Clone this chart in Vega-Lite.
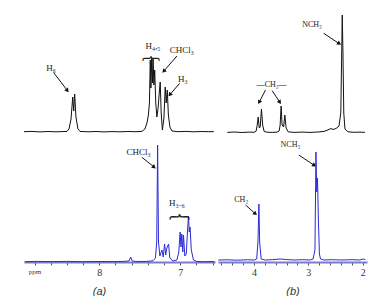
{
"$schema": "https://vega.github.io/schema/vega-lite/v6.json",
"padding": {"left": 22, "top": 13, "right": 0, "bottom": 0},
"background": "white",
"config": {"view": {"stroke": null}},
"bounds": "flush",
"columns": 2,
"spacing": {"row": 10, "column": 3},
"datasets": {
"tl": [
{"ppm":8.93,"I":1.3},{"ppm":8.831,"I":1.6},{"ppm":8.732,"I":1.1},{"ppm":8.633,"I":1.5},{"ppm":8.535,"I":1.2},{"ppm":8.46,"I":1.4},{"ppm":8.399,"I":1.6},{"ppm":8.374,"I":4},{"ppm":8.349,"I":14},{"ppm":8.328,"I":36},{"ppm":8.316,"I":22},{"ppm":8.304,"I":39},{"ppm":8.288,"I":16},{"ppm":8.263,"I":4},{"ppm":8.238,"I":1.6},{"ppm":8.14,"I":1.2},{"ppm":8.041,"I":1.5},{"ppm":7.942,"I":1.1},{"ppm":7.843,"I":1.4},{"ppm":7.744,"I":1.2},{"ppm":7.646,"I":1.5},{"ppm":7.547,"I":1.3},{"ppm":7.473,"I":1.6},{"ppm":7.436,"I":4},{"ppm":7.411,"I":10},{"ppm":7.393,"I":18},{"ppm":7.38,"I":30},{"ppm":7.37,"I":73},{"ppm":7.362,"I":45},{"ppm":7.352,"I":75},{"ppm":7.343,"I":50},{"ppm":7.335,"I":75},{"ppm":7.325,"I":48},{"ppm":7.315,"I":63},{"ppm":7.302,"I":30},{"ppm":7.288,"I":16},{"ppm":7.273,"I":25},{"ppm":7.259,"I":40},{"ppm":7.247,"I":51},{"ppm":7.235,"I":20},{"ppm":7.22,"I":3},{"ppm":7.201,"I":15},{"ppm":7.185,"I":46},{"ppm":7.173,"I":30},{"ppm":7.16,"I":43},{"ppm":7.146,"I":18},{"ppm":7.127,"I":6},{"ppm":7.102,"I":2},{"ppm":7.028,"I":1.3},{"ppm":6.93,"I":1.6},{"ppm":6.831,"I":1.2},{"ppm":6.732,"I":1.5},{"ppm":6.646,"I":1.3},{"ppm":6.584,"I":1.4}
],
"tr": [
{"ppm":4.49,"I":0.6},{"ppm":4.361,"I":1.0},{"ppm":4.215,"I":0.5},{"ppm":4.086,"I":0.9},{"ppm":3.995,"I":0.7},{"ppm":3.958,"I":2},{"ppm":3.939,"I":8},{"ppm":3.921,"I":16},{"ppm":3.902,"I":5},{"ppm":3.884,"I":6},{"ppm":3.861,"I":24},{"ppm":3.839,"I":8},{"ppm":3.811,"I":1.5},{"ppm":3.756,"I":0.8},{"ppm":3.664,"I":0.6},{"ppm":3.572,"I":0.9},{"ppm":3.536,"I":2},{"ppm":3.517,"I":8},{"ppm":3.499,"I":27},{"ppm":3.481,"I":8},{"ppm":3.453,"I":6},{"ppm":3.431,"I":18},{"ppm":3.407,"I":5},{"ppm":3.371,"I":1.2},{"ppm":3.261,"I":0.6},{"ppm":3.114,"I":0.9},{"ppm":2.967,"I":0.6},{"ppm":2.82,"I":1.0},{"ppm":2.71,"I":1.6},{"ppm":2.618,"I":3.5},{"ppm":2.582,"I":4.5},{"ppm":2.545,"I":3.5},{"ppm":2.49,"I":4.5},{"ppm":2.435,"I":7},{"ppm":2.402,"I":20},{"ppm":2.388,"I":70},{"ppm":2.375,"I":118},{"ppm":2.362,"I":80},{"ppm":2.347,"I":20},{"ppm":2.325,"I":4},{"ppm":2.27,"I":1.2},{"ppm":2.16,"I":0.7},{"ppm":2.05,"I":0.9},{"ppm":1.958,"I":0.6}
],
"bl": [
{"ppm":8.921,"I":0.3},{"ppm":8.769,"I":0.6},{"ppm":8.584,"I":0.4},{"ppm":8.399,"I":0.6},{"ppm":8.214,"I":0.3},{"ppm":8.028,"I":0.5},{"ppm":7.843,"I":0.4},{"ppm":7.695,"I":0.6},{"ppm":7.633,"I":1},{"ppm":7.612,"I":5},{"ppm":7.593,"I":1},{"ppm":7.535,"I":0.5},{"ppm":7.411,"I":0.6},{"ppm":7.337,"I":1.2},{"ppm":7.306,"I":4},{"ppm":7.29,"I":20},{"ppm":7.279,"I":117},{"ppm":7.268,"I":20},{"ppm":7.251,"I":6},{"ppm":7.226,"I":12},{"ppm":7.21,"I":5},{"ppm":7.193,"I":18},{"ppm":7.179,"I":7},{"ppm":7.165,"I":14},{"ppm":7.144,"I":18},{"ppm":7.128,"I":4},{"ppm":7.091,"I":1},{"ppm":7.041,"I":2},{"ppm":7.017,"I":10},{"ppm":7.001,"I":30},{"ppm":6.99,"I":15},{"ppm":6.98,"I":28},{"ppm":6.968,"I":10},{"ppm":6.959,"I":27},{"ppm":6.943,"I":6},{"ppm":6.925,"I":8},{"ppm":6.91,"I":30},{"ppm":6.898,"I":46},{"ppm":6.888,"I":30},{"ppm":6.878,"I":35},{"ppm":6.863,"I":12},{"ppm":6.836,"I":2},{"ppm":6.794,"I":0.5},{"ppm":6.696,"I":0.3},{"ppm":6.578,"I":0.5}
],
"br": [
{"ppm":4.655,"I":2},{"ppm":4.49,"I":2.2},{"ppm":4.306,"I":1.8},{"ppm":4.123,"I":2.2},{"ppm":3.995,"I":2},{"ppm":3.949,"I":3},{"ppm":3.925,"I":20},{"ppm":3.908,"I":58},{"ppm":3.894,"I":20},{"ppm":3.866,"I":3},{"ppm":3.793,"I":2},{"ppm":3.664,"I":2.3},{"ppm":3.517,"I":3},{"ppm":3.407,"I":2.5},{"ppm":3.261,"I":2},{"ppm":3.114,"I":2.3},{"ppm":2.967,"I":2},{"ppm":2.912,"I":3},{"ppm":2.877,"I":12},{"ppm":2.859,"I":110},{"ppm":2.844,"I":70},{"ppm":2.83,"I":84},{"ppm":2.813,"I":40},{"ppm":2.795,"I":8},{"ppm":2.775,"I":3},{"ppm":2.71,"I":2},{"ppm":2.563,"I":2.3},{"ppm":2.38,"I":2},{"ppm":2.196,"I":2.3},{"ppm":2.05,"I":2},{"ppm":1.995,"I":3},{"ppm":1.949,"I":2.5}
],
"tlLab": [{"ppm":8.596,"I":65,"t":"H₆"},{"ppm":7.337,"I":87,"t":"H₄,₅"},{"ppm":6.979,"I":83,"t":"CHCl₃"},{"ppm":6.967,"I":54,"t":"H₃"}],
"tlBr": [{"ppm":7.362,"I":79,"t":"︷"}],
"tlArr": [{"ppm":8.563,"I":60.3,"ppm2":8.399,"I2":43,"ang":142},{"ppm":7.041,"I":77,"ppm2":7.198,"I2":62.3,"ang":221},{"ppm":7.007,"I":49.7,"ppm2":7.123,"I2":38.7,"ang":220}],
"trLab": [{"ppm":3.673,"I":48.5,"t":"—CH₂—"},{"ppm":2.93,"I":108,"t":"NCH₃"}],
"trArr": [{"ppm":3.787,"I":43,"ppm2":3.897,"I2":31.3,"ang":207},{"ppm":3.664,"I":42.3,"ppm2":3.53,"I2":31.3,"ang":146},{"ppm":2.716,"I":99.7,"ppm2":2.44,"I2":89.7,"ang":124}],
"blLab": [{"ppm":7.514,"I":110.3,"t":"CHCl₃"},{"ppm":7.041,"I":59,"t":"H₃₋₆"}],
"blBr": [{"ppm":7.01,"I":51,"t":"︷"}],
"blArr": [{"ppm":7.473,"I":104.7,"ppm2":7.328,"I2":95.3,"ang":129}],
"brLab": [{"ppm":4.233,"I":62.5,"t":"CH₂"},{"ppm":3.328,"I":117,"t":"NCH₃"}],
"brArr": [{"ppm":4.154,"I":57,"ppm2":3.982,"I2":48.7,"ang":131},{"ppm":3.174,"I":107,"ppm2":2.899,"I2":97,"ang":124}]
},
"concat": [
 {"width":191,"height":120,
  "encoding":{"x":{"field":"ppm","type":"quantitative","scale":{"domain":[8.93,6.57],"nice":false,"zero":false},"axis":null},
              "y":{"field":"I","type":"quantitative","scale":{"domain":[0,120],"nice":false,"zero":false},"axis":null}},
  "layer":[
   {"data":{"name":"tl"},"mark":{"type":"line","color":"#111111","strokeWidth":1}},
   {"data":{"name":"tlArr"},"mark":{"type":"rule","color":"#111111","strokeWidth":1},"encoding":{"x2":{"field":"ppm2"},"y2":{"field":"I2"}}},
   {"data":{"name":"tlArr"},"mark":{"type":"point","shape":"triangle","filled":true,"size":22,"color":"#111111","opacity":1},"encoding":{"x":{"field":"ppm2","type":"quantitative"},"y":{"field":"I2","type":"quantitative"},"angle":{"field":"ang","type":"quantitative","scale":null}}},
   {"data":{"name":"tlLab"},"mark":{"type":"text","font":"Liberation Serif","fontSize":9,"color":"#222222"},"encoding":{"text":{"field":"t"}}},
   {"data":{"name":"tlBr"},"mark":{"type":"text","font":"Noto Sans CJK SC","fontSize":18,"color":"#222222"},"encoding":{"text":{"field":"t"}}}
  ]},
 {"width":149,"height":120,
  "encoding":{"x":{"field":"ppm","type":"quantitative","scale":{"domain":[4.66,1.92],"nice":false,"zero":false},"axis":null},
              "y":{"field":"I","type":"quantitative","scale":{"domain":[0,120],"nice":false,"zero":false},"axis":null}},
  "layer":[
   {"data":{"name":"tr"},"mark":{"type":"line","color":"#111111","strokeWidth":1}},
   {"data":{"name":"trArr"},"mark":{"type":"rule","color":"#111111","strokeWidth":1},"encoding":{"x2":{"field":"ppm2"},"y2":{"field":"I2"}}},
   {"data":{"name":"trArr"},"mark":{"type":"point","shape":"triangle","filled":true,"size":22,"color":"#111111","opacity":1},"encoding":{"x":{"field":"ppm2","type":"quantitative"},"y":{"field":"I2","type":"quantitative"},"angle":{"field":"ang","type":"quantitative","scale":null}}},
   {"data":{"name":"trLab"},"mark":{"type":"text","font":"Liberation Serif","fontSize":8,"color":"#222222"},"encoding":{"text":{"field":"t"}}}
  ]},
 {"width":191,"height":119,
  "encoding":{"x":{"field":"ppm","type":"quantitative","scale":{"domain":[8.93,6.57],"nice":false,"zero":false},
     "axis":{"values":[8.8,8.6,8.4,8.2,8,7.8,7.6,7.4,7.2,7,6.8,6.6],
       "labelExpr":"datum.value == 8.8 ? 'ppm' : datum.value == 8 ? '8' : datum.value == 7 ? '7' : ''",
       "labelFont":"Liberation Serif","labelFontSize":{"condition":{"test":"datum.value == 8.8","value":7},"value":10},
       "labelColor":"#333333","labelFlush":false,"labelOverlap":false,"labelPadding":2,
       "tickSize":3,"tickColor":"#555555","domainColor":"#7b7bc9","domainWidth":2,"grid":false,
       "title":"(a)","titleFont":"Liberation Sans","titleFontStyle":"italic","titleFontWeight":"normal","titleFontSize":11,"titleColor":"#333333","titlePadding":8,"titleX":75}},
              "y":{"field":"I","type":"quantitative","scale":{"domain":[0,119],"nice":false,"zero":false},"axis":null}},
  "layer":[
   {"data":{"name":"bl"},"mark":{"type":"line","color":"#2b2bd9","strokeWidth":1}},
   {"data":{"name":"blArr"},"mark":{"type":"rule","color":"#111111","strokeWidth":1},"encoding":{"x2":{"field":"ppm2"},"y2":{"field":"I2"}}},
   {"data":{"name":"blArr"},"mark":{"type":"point","shape":"triangle","filled":true,"size":22,"color":"#111111","opacity":1},"encoding":{"x":{"field":"ppm2","type":"quantitative"},"y":{"field":"I2","type":"quantitative"},"angle":{"field":"ang","type":"quantitative","scale":null}}},
   {"data":{"name":"blLab"},"mark":{"type":"text","font":"Liberation Serif","fontSize":9,"color":"#222222"},"encoding":{"text":{"field":"t"}}},
   {"data":{"name":"blBr"},"mark":{"type":"text","font":"Noto Sans CJK SC","fontSize":21,"color":"#222222"},"encoding":{"text":{"field":"t"}}}
  ]},
 {"width":149,"height":119,
  "encoding":{"x":{"field":"ppm","type":"quantitative","scale":{"domain":[4.66,1.92],"nice":false,"zero":false},
     "axis":{"values":[4.6,4.4,4.2,4,3.8,3.6,3.4,3.2,3,2.8,2.6,2.4,2.2,2],
       "labelExpr":"datum.value == 4 ? '4' : datum.value == 3 ? '3' : datum.value == 2 ? '2' : ''",
       "labelFont":"Liberation Serif","labelFontSize":10,
       "labelColor":"#333333","labelFlush":false,"labelOverlap":false,"labelPadding":2,
       "tickSize":3,"tickColor":"#555555","domainColor":"#7b7bc9","domainWidth":2,"grid":false,
       "title":"(b)","titleFont":"Liberation Sans","titleFontStyle":"italic","titleFontWeight":"normal","titleFontSize":11,"titleColor":"#333333","titlePadding":8}},
              "y":{"field":"I","type":"quantitative","scale":{"domain":[0,119],"nice":false,"zero":false},"axis":null}},
  "layer":[
   {"data":{"name":"br"},"mark":{"type":"line","color":"#2b2bd9","strokeWidth":1}},
   {"data":{"name":"brArr"},"mark":{"type":"rule","color":"#111111","strokeWidth":1},"encoding":{"x2":{"field":"ppm2"},"y2":{"field":"I2"}}},
   {"data":{"name":"brArr"},"mark":{"type":"point","shape":"triangle","filled":true,"size":22,"color":"#111111","opacity":1},"encoding":{"x":{"field":"ppm2","type":"quantitative"},"y":{"field":"I2","type":"quantitative"},"angle":{"field":"ang","type":"quantitative","scale":null}}},
   {"data":{"name":"brLab"},"mark":{"type":"text","font":"Liberation Serif","fontSize":8,"color":"#222222"},"encoding":{"text":{"field":"t"}}}
  ]}
]
}
